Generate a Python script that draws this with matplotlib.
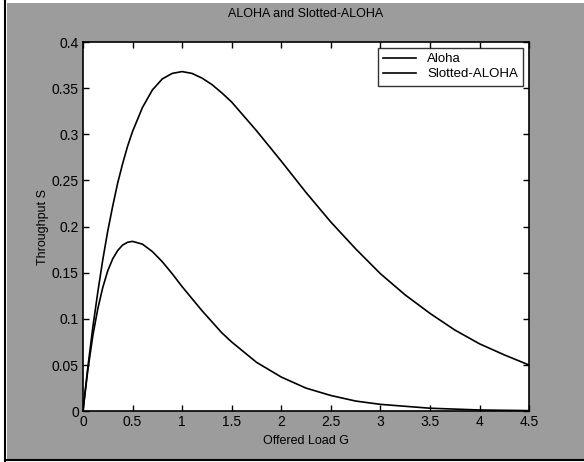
import numpy as np
import matplotlib
matplotlib.use('Agg')
import matplotlib.pyplot as plt
from matplotlib.patches import Rectangle

plt.rcParams['font.family'] = ['Liberation Sans', 'DejaVu Sans']

# offered load G and throughput values
g_aloha = [0, 0.05, 0.1, 0.15, 0.2, 0.25, 0.3, 0.35, 0.4, 0.45, 0.5, 0.6, 0.7, 0.8,
           0.9, 1.0, 1.1, 1.2, 1.3, 1.4, 1.5, 1.75, 2.0, 2.25, 2.5, 2.75, 3.0, 3.5,
           4.0, 4.5]
s_aloha = [0, 0.045, 0.082, 0.111, 0.134, 0.152, 0.165, 0.174, 0.180, 0.183, 0.184,
           0.181, 0.173, 0.162, 0.149, 0.135, 0.122, 0.109, 0.097, 0.085, 0.075,
           0.053, 0.037, 0.025, 0.017, 0.011, 0.0074, 0.0032, 0.0013, 0.0006]

g_slotted = [0, 0.05, 0.1, 0.15, 0.2, 0.25, 0.3, 0.35, 0.4, 0.45, 0.5, 0.6, 0.7, 0.8,
             0.9, 1.0, 1.1, 1.2, 1.3, 1.4, 1.5, 1.75, 2.0, 2.25, 2.5, 2.75, 3.0, 3.25,
             3.5, 3.75, 4.0, 4.25, 4.5]
s_slotted = [0, 0.048, 0.091, 0.129, 0.164, 0.195, 0.222, 0.247, 0.268, 0.287, 0.303,
             0.329, 0.348, 0.360, 0.366, 0.368, 0.366, 0.361, 0.354, 0.345, 0.335,
             0.304, 0.271, 0.237, 0.205, 0.176, 0.149, 0.126, 0.106, 0.088, 0.073,
             0.061, 0.050]

xticks = [0, 0.5, 1, 1.5, 2, 2.5, 3, 3.5, 4, 4.5]
xticklabels = ['0', '0.5', '1', '1.5', '2', '2.5', '3', '3.5', '4', '4.5']
yticks = [0, 0.05, 0.1, 0.15, 0.2, 0.25, 0.3, 0.35, 0.4]
yticklabels = ['0', '0.05', '0.1', '0.15', '0.2', '0.25', '0.3', '0.35', '0.4']

fig = plt.figure(figsize=(5.84, 4.62), dpi=100, facecolor='white')

# scanned grey page behind the plot, with the black edge lines
fig.add_artist(Rectangle((7 / 584, 3 / 462), 1 - 7 / 584, 456 / 462,
                         transform=fig.transFigure, facecolor='#9c9c9c',
                         edgecolor='none', zorder=-10))
fig.add_artist(plt.Line2D([5 / 584, 5 / 584], [0.0, 1.0], color='black', lw=1.5))
fig.add_artist(plt.Line2D([5 / 584, 1.0], [2.5 / 462, 2.5 / 462], color='black', lw=1.5))

ax = fig.add_axes([0.142, 0.110, 0.764, 0.799])
ax.set_facecolor('white')

ax.plot(g_aloha, s_aloha, color='black', lw=1.2, label='Aloha')
ax.plot(g_slotted, s_slotted, color='black', lw=1.2, label='Slotted-ALOHA')

ax.set_xlim(0, 4.5)
ax.set_ylim(0, 0.4)
ax.set_xticks(xticks)
ax.set_xticklabels(xticklabels)
ax.set_yticks(yticks)
ax.set_yticklabels(yticklabels)
ax.tick_params(direction='in', top=True, right=True, length=4, width=1,
               labelsize=10, colors='black', pad=3)
for sp in ax.spines.values():
    sp.set_linewidth(1.2)

ax.set_title('ALOHA and Slotted-ALOHA', fontsize=9, pad=18)
ax.set_xlabel('Offered Load G', fontsize=9, labelpad=4)
ax.set_ylabel('Throughput S', fontsize=9, labelpad=2)

leg = ax.legend(loc='upper right', fontsize=9.5, frameon=True, fancybox=False,
                edgecolor='black', handlelength=2.5, borderaxespad=0.45,
                borderpad=0.4, labelspacing=0.2)
leg.get_frame().set_linewidth(1.0)

fig.savefig('out.png', dpi=100, facecolor=fig.get_facecolor())
